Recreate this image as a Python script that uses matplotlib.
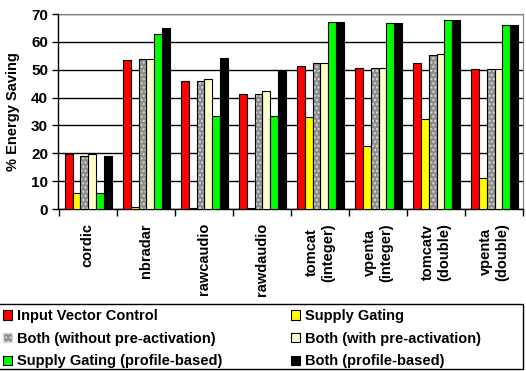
import numpy as np
import matplotlib.pyplot as plt
from matplotlib.patches import Patch, Rectangle

plt.rcParams['font.family'] = ['Liberation Sans', 'DejaVu Sans']
plt.rcParams['font.weight'] = 'bold'
plt.rcParams['hatch.linewidth'] = 1.0

# benchmarks
benchmarks = ["cordic", "nbradar", "rawcaudio", "rawdaudio", "tomcat\n(integer)",
              "vpenta\n(integer)", "tomcatv\n(double)", "vpenta\n(double)"]

# % energy saving per technique
input_vector = [19.7, 53.5, 45.9, 41.4, 51.5, 50.5, 52.3, 50.1]
supply_gating = [5.6, 0.8, 0.2, 0.2, 33.0, 22.6, 32.2, 11.2]
both_no_preact = [19.0, 53.7, 45.9, 41.4, 52.4, 50.5, 55.2, 50.1]
both_preact = [19.7, 53.7, 46.5, 42.2, 52.4, 50.5, 55.6, 50.1]
sg_profile = [5.6, 62.7, 33.5, 33.5, 67.0, 66.6, 67.8, 65.9]
both_profile = [19.1, 64.9, 54.1, 49.7, 67.0, 66.6, 67.8, 65.9]

series = [input_vector, supply_gating, both_no_preact, both_preact, sg_profile, both_profile]
names = ["Input Vector Control", "Supply Gating", "Both (without pre-activation)",
         "Both (with pre-activation)", "Supply Gating (profile-based)", "Both (profile-based)"]
colors = ["#ff0000", "#ffff00", "#8e8e8e", "#ffffcc", "#00ff00", "#000000"]

fig = plt.figure(figsize=(5.26, 3.71), dpi=100)
ax = fig.add_axes([58.5 / 526, 1 - 209 / 371, (523 - 58.5) / 526, 195 / 371])

x = np.arange(len(benchmarks))
w = 0.134
start = -0.5 + 0.11
handles = []
for k, (vals, name, c) in enumerate(zip(series, names, colors)):
    pos = x + start + k * w
    if k == 2:
        # speckled gray bars
        ax.bar(pos, vals, w, align='edge', color=c, hatch='....',
               edgecolor='#d8d8d8', linewidth=0, zorder=3)
        ax.bar(pos, vals, w, align='edge', fill=False, edgecolor='black',
               linewidth=0.8, zorder=4)
        handles.append(Patch(facecolor=c, hatch='....', edgecolor='#d8d8d8', label=name))
    else:
        ax.bar(pos, vals, w, align='edge', color=c, edgecolor='black',
               linewidth=0.8, zorder=3)
        handles.append(Patch(facecolor=c, edgecolor='black', linewidth=0.8, label=name))

ax.set_xlim(-0.5, len(benchmarks) - 0.5)
ax.set_ylim(0, 70)
ax.set_yticks(range(0, 71, 10))
ax.yaxis.grid(True, color='black', linewidth=1)
ax.set_axisbelow(True)
ax.set_ylabel("% Energy Saving", fontsize=10.5, fontweight='bold', labelpad=8)

ax.set_xticks(x)
ax.set_xticklabels(benchmarks, rotation=90, fontsize=10.5, fontweight='bold',
                   va='top', ha='center', multialignment='center')
ax.set_xticks(np.arange(-0.5, len(benchmarks)), minor=True)
ax.tick_params(axis='x', which='major', length=0, pad=10)
ax.tick_params(axis='x', which='minor', length=5, width=1, direction='out')
ax.tick_params(axis='y', labelsize=11, length=4, width=1)

ax.spines['left'].set_linewidth(1)
ax.spines['bottom'].set_linewidth(1)
ax.spines['top'].set_color('#808080')
ax.spines['right'].set_color('#808080')

# legend frame, drawn by hand so the two columns can sit where they are in the original
fig.add_artist(Rectangle((-3 / 526, 1 - 369 / 371), 526 / 526, 65 / 371,
                         transform=fig.transFigure, fill=False,
                         edgecolor='black', linewidth=1))
legend_kw = dict(loc='upper left', frameon=False, handlelength=0.65,
                 handleheight=0.65, handletextpad=0.3, borderaxespad=0,
                 borderpad=0, labelspacing=0.6, prop={'weight': 'bold', 'size': 10.5})
col1 = [0, 2, 4]
col2 = [1, 3, 5]
leg1 = fig.legend([handles[i] for i in col1], [names[i] for i in col1],
                  bbox_to_anchor=(3 / 526, 1 - 309 / 371), **legend_kw)
leg2 = fig.legend([handles[i] for i in col2], [names[i] for i in col2],
                  bbox_to_anchor=(291 / 526, 1 - 309 / 371), **legend_kw)

fig.savefig("out.png", dpi=100)
